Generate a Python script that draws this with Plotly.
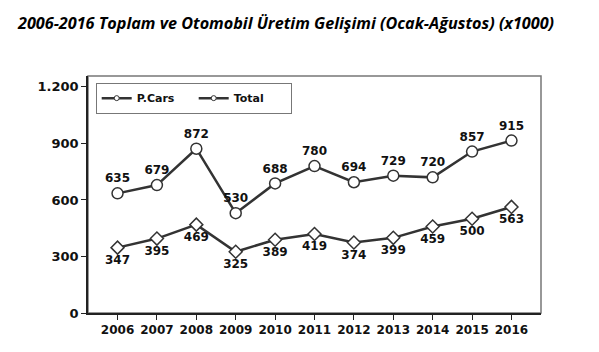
import plotly.graph_objects as go

years = ["2006","2007","2008","2009","2010","2011","2012","2013","2014","2015","2016"]
pcars = [347,395,469,325,389,419,374,399,459,500,563]
total = [635,679,872,530,688,780,694,729,720,857,915]
yticks = [0,300,600,900,1200]
ytick_text = ["0","300","600","900","1.200"]

lab_font = dict(family="DejaVu Sans", size=12, color="#111", weight="bold")
fig = go.Figure()
fig.add_trace(go.Scatter(
    x=years, y=pcars, name="P.Cars", mode="lines+markers+text", showlegend=False,
    line=dict(color="#333", width=2.5),
    marker=dict(symbol="diamond", size=10, color="white", line=dict(color="#333", width=1.5)),
    text=[str(v) for v in pcars], textposition="bottom center", textfont=lab_font,
))
fig.add_trace(go.Scatter(
    x=years, y=total, name="Total", mode="lines+markers+text", showlegend=False,
    line=dict(color="#333", width=2.5),
    marker=dict(symbol="circle", size=11, color="white", line=dict(color="#333", width=1.5)),
    text=[str(v) for v in total], textposition="top center", textfont=lab_font,
))
for nm in ["P.Cars", "Total"]:
    fig.add_trace(go.Scatter(
        x=[None], y=[None], name=nm, mode="lines+markers", showlegend=True,
        line=dict(color="#333", width=2.5),
        marker=dict(symbol="circle", size=5, color="white", line=dict(color="#333", width=1)),
    ))
fig.update_layout(
    width=599, height=352,
    margin=dict(l=88, r=58, t=76, b=39),
    paper_bgcolor="white", plot_bgcolor="white",
    showlegend=True,
    title=dict(text="<b><i>2006-2016 Toplam ve Otomobil Üretim Gelişimi (Ocak-Ağustos) (x1000)</i></b>",
               x=0.03, xanchor="left", y=0.935, yanchor="middle",
               font=dict(family="Open Sans", size=16.2, color="#000")),
    legend=dict(orientation="h", x=0.017, y=0.972, xanchor="left", yanchor="top",
                bordercolor="#777", borderwidth=1, bgcolor="white",
                font=dict(family="DejaVu Sans", size=11, color="#111", weight="bold"),
                itemwidth=30, entrywidth=52, tracegroupgap=0),
    xaxis=dict(showline=True, linecolor="#222", linewidth=1.5, mirror=False,
               ticks="outside", ticklen=5, tickcolor="#222",
               tickfont=dict(family="DejaVu Sans", size=12, color="#111", weight="bold"),
               showgrid=False),
    yaxis=dict(range=[0,1258], tickvals=yticks, ticktext=ytick_text,
               showline=True, linecolor="#222", linewidth=1.5,
               ticks="outside", ticklen=5, tickcolor="#222",
               tickfont=dict(family="DejaVu Sans", size=13, color="#111", weight="bold"),
               showgrid=False, zeroline=False),
    shapes=[dict(type="rect", xref="paper", yref="paper", x0=0, x1=1, y0=0, y1=1,
                 line=dict(color="#777", width=1.5), layer="below")],
)
fig.write_html("out.html")
